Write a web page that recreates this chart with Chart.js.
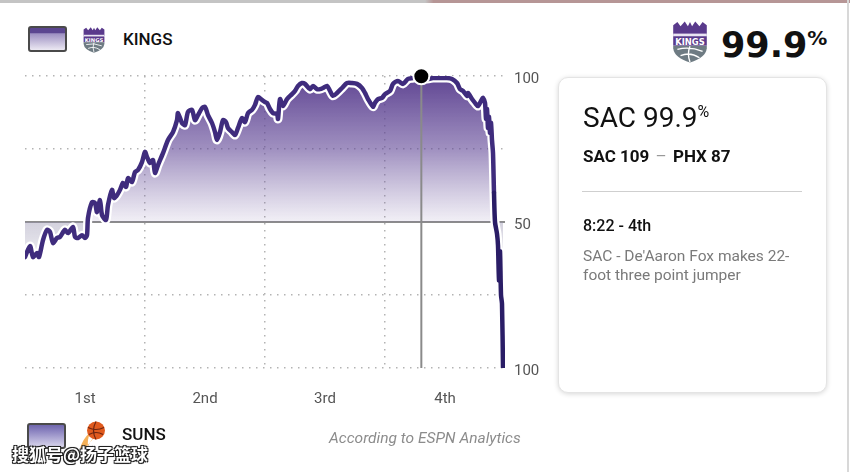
<!DOCTYPE html>
<html>
<head>
<meta charset="utf-8">
<script src="https://cdn.jsdelivr.net/npm/chart.js@4.4.0/dist/chart.umd.min.js"></script>
<style>
  body { margin: 0; width: 850px; height: 472px; background: #fff; position: relative; overflow: hidden; font-family: Roboto, "Noto Sans", sans-serif; color: #111; }
  .abs { position: absolute; line-height: 1; white-space: nowrap; }
  #topbar { position: absolute; left: 0; top: 0; width: 850px; height: 3px; background: linear-gradient(90deg, #c4c4c4 0, #c4c4c4 50%, #b69696 51%, #b69696 100%); }
  #rightbar { position: absolute; left: 847px; top: 0; width: 2px; height: 472px; background: #d8d8d8; }
  .swatch { position: absolute; width: 35px; height: 22px; border: 2px solid #4a4a4a; border-radius: 3px; }
  #swKings { left: 28px; top: 26px; background: linear-gradient(#5b4690 0, #5b4690 22%, #9d90c2 26%, #ece9f3 100%); }
  #swSuns { left: 27px; top: 423px; background: linear-gradient(#6f66ad 0, #8e86c2 30%, #d9d6ec 100%); }
  #chartBox { position: absolute; left: 0; top: 0; width: 560px; height: 420px; }
  #card { position: absolute; left: 558px; top: 77px; width: 267px; height: 314px; border-radius: 10px; border: 1px solid #e4e4e4; box-shadow: 0 1px 5px rgba(0,0,0,0.16); background: #fff; }
  #watermark { position: absolute; left: 12px; top: 445px; font: bold 17px "Noto Sans CJK SC", sans-serif; color: #fff; line-height: 1;
    text-shadow: -1px -1px 0 #222, 1px -1px 0 #222, -1px 1px 0 #222, 1px 1px 0 #222, 0 0 2px #000; }
</style>
</head>
<body>
<div id="topbar"></div>
<div id="rightbar"></div>

<svg width="0" height="0" style="position:absolute">
  <defs>
    <symbol id="kingsLogo" viewBox="0 0 36 40">
      <path d="M2 4 L6 1 L9 5 L13 0.5 L16 5 L18 1 L20 5 L23 0.5 L27 5 L30 1 L34 4 L34 14 L2 14 Z" fill="#5a3a8c"/>
      <rect x="2" y="12" width="32" height="2.5" fill="#e9e4f2"/>
      <rect x="2" y="14.5" width="32" height="9" fill="#5a3a8c"/>
      <text x="18" y="22.5" text-anchor="middle" font-family="DejaVu Sans" font-weight="bold" font-size="8" fill="#fff">KINGS</text>
      <path d="M2 23.5 L34 23.5 L34 26 Q33 35 18 39.5 Q3 35 2 26 Z" fill="#6e7b83"/>
      <path d="M6 27 Q18 24 30 29 M9 33 Q18 29 27 35 M18 24 Q15 31 18 39" stroke="#fff" stroke-width="1.3" fill="none"/>
    </symbol>
    <symbol id="sunsLogo" viewBox="0 0 28 30">
      <path d="M1 29 Q4 19 11 13 Q8 21 9 27 Q12 20 16 17 Q10 24 6 29 Z" fill="#f3a23a" opacity="0.85"/>
      <circle cx="17" cy="11" r="9" fill="#e05a1e"/>
      <path d="M9 8 Q17 12 25 8 M17 2 Q12 11 17 20 M10 15 Q17 11 24 15" stroke="#6b2410" stroke-width="1.1" fill="none"/>
    </symbol>
  </defs>
</svg>

<div class="swatch" id="swKings"></div>
<svg class="abs" style="left:82px;top:27px" width="24" height="26"><use href="#kingsLogo"/></svg>
<div class="abs" style="left:123px;top:31px;font-size:17px;font-weight:500;">KINGS</div>

<svg class="abs" style="left:671px;top:21px" width="38" height="42"><use href="#kingsLogo"/></svg>
<div class="abs" style="left:721px;top:25px;font:bold 35px 'DejaVu Sans';color:#111;">99.9<span style="font-size:20px;vertical-align:top;position:relative;top:1px;">%</span></div>

<div id="chartBox"><canvas id="wpChart" width="560" height="420"></canvas></div>

<div id="card"></div>
<div class="abs" style="left:583px;top:104px;font-size:28px;color:#111;">SAC 99.9<span style="font-size:16px;vertical-align:top;position:relative;top:0px;">%</span></div>
<div class="abs" style="left:583px;top:148px;font-size:17px;font-weight:bold;">SAC 109 <span style="color:#999;font-weight:normal;padding:0 2px;">–</span> PHX 87</div>
<div class="abs" style="left:582px;top:191px;width:220px;height:0;border-top:1.5px solid #cfcfcf;"></div>
<div class="abs" style="left:583px;top:218px;font-size:16px;font-weight:500;">8:22 - 4th</div>
<div class="abs" style="left:583px;top:247px;font-size:15.5px;color:#7a7a7a;line-height:19px;">SAC - De'Aaron Fox makes 22-<br>foot three point jumper</div>

<div class="swatch" id="swSuns"></div>
<svg class="abs" style="left:79px;top:419px" width="28" height="31"><use href="#sunsLogo"/></svg>
<div class="abs" style="left:122px;top:426px;font-size:17px;font-weight:500;">SUNS</div>
<div class="abs" style="left:329px;top:431px;font-size:15.5px;font-style:italic;color:#8c8c8c;">According to ESPN Analytics</div>
<div id="watermark">搜狐号@扬子篮球</div>

<script>
// game minute (0-48) and Kings win probability (%)
const minutes = [
  0, 0.5, 0.8, 1.2, 1.4, 1.8, 2.2, 2.5, 2.8, 3.2, 3.5, 4.0, 4.3, 4.8, 5.0, 5.3, 5.7, 6.0, 6.2, 6.3,
  6.7, 7.0, 7.2, 7.5, 7.7, 8.1, 8.3, 8.7, 8.9, 9.2, 9.5, 9.8, 10.1, 10.3, 10.7, 11.0, 11.3, 11.7, 12.0,
  12.2, 12.5, 12.8, 13.0, 13.3, 13.8, 14.3, 14.8, 15.2, 15.3, 15.7, 16.0, 16.3, 16.7, 17.0, 17.3, 17.7, 18.0,
  18.3, 18.7, 19.0, 19.2, 19.5, 19.8, 20.1, 20.3, 20.7, 21.0, 21.3, 21.7, 22.0, 22.3, 22.7, 23.0, 23.3, 23.7, 24.0,
  24.2, 24.5, 24.8, 25.2, 25.3, 25.5, 25.8, 26.2, 26.7, 27.0, 27.3, 27.7, 28.0, 28.5, 28.8, 29.2, 29.5, 29.8,
  30.2, 30.5, 30.8, 31.2, 31.7, 32.2, 32.7, 33.2, 33.7, 34.0, 34.3, 34.8, 35.0, 35.3, 35.7, 36.0,
  36.5, 36.8, 37.3, 37.8, 38.3, 38.8, 39.6, 40.2, 40.8, 41.5, 42.2, 42.7, 43.2, 43.5, 43.8, 44.2, 44.3,
  44.7, 45.0, 45.3, 45.7, 45.8, 46.0, 46.1, 46.2, 46.3, 46.4, 46.5, 46.6, 46.7, 46.8, 46.9, 47.0,
  47.2, 47.3, 47.4, 47.5, 47.6, 47.7, 47.8
];
const kingsPct = [
  38, 41.8, 38, 39.4, 38, 43.8, 47.3, 46.6, 42.8, 44.5, 44.9, 47.3, 46.2, 48.3, 44.9, 44.5, 45.5, 44.5, 45.5, 51.4,
  56.8, 56.5, 53.4, 57.5, 52.4, 50.7, 55.8, 61, 58.2, 59.2, 61, 63.4, 62, 65, 63.7, 67.1, 67.8, 70.5, 74,
  72.3, 70.2, 71.2, 66.8, 69.5, 73.6, 78.1, 80.8, 84.9, 87.3, 83.9, 83.2, 87.7, 88.4, 84.9, 86.6, 89, 89.4,
  86.6, 83.9, 80.8, 78.1, 80.8, 84.9, 84.2, 82.2, 80.8, 79.8, 82.2, 85.6, 84.2, 87.3, 88.4, 90.1, 92.8, 91.8, 91.1,
  90.8, 88.7, 87.3, 87, 85.3, 92.1, 89.7, 92.1, 93.8, 94.9, 96.6, 97.6, 97.3, 95.5, 96.6, 95.5, 95.5, 95.9,
  96.6, 94.9, 93.2, 94.2, 95.9, 97.6, 97.6, 97.3, 95.9, 94.2, 92.1, 89.5, 90.8, 92.1, 92.5, 93.8,
  94.9, 97.3, 98.3, 97.3, 99, 99.3, 99.9, 99, 99.3, 99.3, 99.3, 99, 97.6, 95.5, 94.9, 93.2, 94.2,
  92.1, 90.8, 89.7, 92.1, 92.5, 90.8, 85.3, 88.7, 82.2, 86, 80.5, 84, 78, 73.6, 60, 50,
  46, 42, 30, 40, 25, 22, 0.3
];
const quarterLabels = ["1st", "2nd", "3rd", "4th"];
const quarterMid = [6, 18, 30, 42];
const quarterEdges = [12, 24, 36];
const yTickLabels = { 0: "100", 50: "50", 100: "100" };

// selected play: 8:22 left in the 4th
const playMinute = 36 + 12 - (8 + 22 / 60);
const playPct = 99.9;

const points = minutes.map((m, i) => ({ x: m, y: kingsPct[i] }));

function areaGradient(context) {
  const chart = context.chart;
  if (!chart.chartArea) return "rgba(90,62,140,0.4)";
  const y = chart.scales.y;
  const top = y.getPixelForValue(100), bottom = y.getPixelForValue(30);
  const g = chart.ctx.createLinearGradient(0, top, 0, bottom);
  const mid = 50 / 70;
  g.addColorStop(0, "rgba(86,58,140,0.95)");
  g.addColorStop(mid * 0.5, "rgba(96,70,150,0.6)");
  g.addColorStop(mid - 0.001, "rgba(120,100,165,0.1)");
  g.addColorStop(mid, "rgba(150,146,175,0.42)");
  g.addColorStop(1, "rgba(150,146,175,0.02)");
  return g;
}

const ctx = document.getElementById("wpChart").getContext("2d");
new Chart(ctx, {
  type: "line",
  data: {
    datasets: [
      {
        data: points,
        borderColor: "#ffffff",
        borderWidth: 9,
        backgroundColor: areaGradient,
        fill: { target: { value: 50 } },
        tension: 0.25,
        pointRadius: 0,
        borderJoinStyle: "round",
        order: 4
      },
      {
        data: [{ x: playMinute, y: 0 }, { x: playMinute, y: playPct }],
        borderColor: "#8a8a8a",
        borderWidth: 2,
        pointRadius: 0,
        fill: false,
        order: 3
      },
      {
        data: points,
        borderColor: "#3f2c7d",
        borderWidth: 4.5,
        fill: false,
        tension: 0.25,
        pointRadius: 0,
        borderJoinStyle: "round",
        borderCapStyle: "round",
        segment: {
          borderColor: c => (c.p0.parsed.x >= 46.9 ? "#2a1d66" : undefined)
        },
        order: 2
      },
      {
        data: [{ x: playMinute, y: playPct }],
        showLine: false,
        pointRadius: 8,
        pointBackgroundColor: "#000",
        pointBorderColor: "#fff",
        pointBorderWidth: 2,
        clip: false,
        order: 1
      }
    ]
  },
  options: {
    responsive: false,
    animation: false,
    events: [],
    layout: { padding: { left: 25, top: 76, right: 0, bottom: 0 } },
    plugins: { legend: { display: false }, tooltip: { enabled: false } },
    scales: {
      x: {
        type: "linear",
        min: 0,
        max: 48,
        afterBuildTicks: s => { s.ticks = quarterEdges.map(v => ({ value: v })); },
        afterFit: s => { s.height = 0; },
        ticks: { display: false },
        grid: { color: "#b3b3b3", lineWidth: 1.5, drawTicks: false },
        border: { display: false, dash: [1.5, 5.5] }
      },
      xq: {
        type: "linear",
        position: "bottom",
        min: 0,
        max: 48,
        afterBuildTicks: s => { s.ticks = quarterMid.map(v => ({ value: v })); },
        afterFit: s => { s.height = 52; },
        grid: { display: false, drawTicks: false },
        border: { display: false },
        ticks: {
          autoSkip: false,
          maxRotation: 0,
          padding: 22,
          color: "#555",
          font: { family: "Roboto", size: 15 },
          callback: v => quarterLabels[quarterMid.indexOf(v)]
        }
      },
      y: {
        position: "right",
        min: 0,
        max: 100,
        afterFit: s => { s.width = 55; },
        ticks: {
          stepSize: 25,
          padding: 9,
          labelOffset: 3,
          color: "#555",
          font: { family: "Roboto", size: 15 },
          callback: v => yTickLabels[v] || ""
        },
        grid: {
          drawTicks: false,
          color: c => (c.tick && c.tick.value === 50 ? "#8c8c8c" : "#b3b3b3"),
          lineWidth: c => (c.tick && c.tick.value === 50 ? 2 : 1.5)
        },
        border: {
          display: false,
          dash: c => (c.tick && c.tick.value === 50 ? [] : [1.5, 5.5])
        }
      }
    }
  }
});
</script>
</body>
</html>
